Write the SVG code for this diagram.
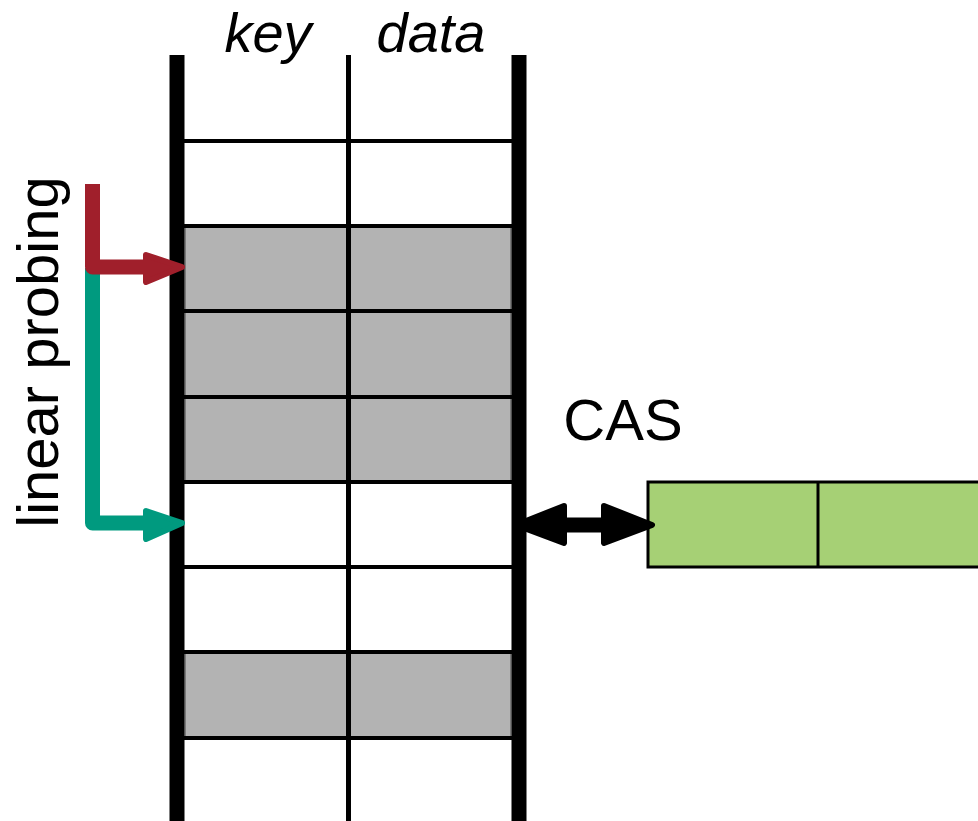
<svg xmlns="http://www.w3.org/2000/svg" width="978" height="821" viewBox="0 0 978 821">
<style>
.t{font-family:"Liberation Sans",Arial,Helvetica,sans-serif;fill:#000}
.it{font-style:italic}
.gray{fill:#b3b3b3;stroke:#444;stroke-width:1}
.hl{stroke:#000;stroke-width:4}
.bar{stroke:#000;stroke-width:15}
.ah{stroke-linejoin:round;stroke-width:6}
</style>
<rect width="978" height="821" fill="#fff"/>
<g id="table">
<rect class="gray" x="185" y="226" width="326" height="256"/>
<rect class="gray" x="185" y="652" width="326" height="86"/>
<line class="hl" x1="177" y1="141" x2="518" y2="141"/>
<line class="hl" x1="177" y1="226" x2="518" y2="226"/>
<line class="hl" x1="177" y1="311" x2="518" y2="311"/>
<line class="hl" x1="177" y1="397" x2="518" y2="397"/>
<line class="hl" x1="177" y1="482" x2="518" y2="482"/>
<line class="hl" x1="177" y1="567" x2="518" y2="567"/>
<line class="hl" x1="177" y1="652" x2="518" y2="652"/>
<line class="hl" x1="177" y1="738" x2="518" y2="738"/>
<line x1="348.5" y1="55" x2="348.5" y2="821" stroke="#000" stroke-width="5"/>
<line class="bar" x1="177" y1="55" x2="177" y2="821"/>
<line class="bar" x1="519" y1="55" x2="519" y2="821"/>
<text class="t it" x="268" y="52" font-size="56" text-anchor="middle">key</text>
<text class="t it" x="431" y="52" font-size="56" text-anchor="middle">data</text>
</g>
<g id="cas-target">
<rect x="648" y="482" width="340" height="85" fill="#a6d075" stroke="#000" stroke-width="3"/>
<line x1="818" y1="482" x2="818" y2="567" stroke="#000" stroke-width="3"/>
</g>
<g id="label-linear-probing">
<text class="t" transform="translate(58,352) rotate(-90)" font-size="58" text-anchor="middle">linear probing</text>
</g>
<g id="label-cas">
<text class="t" x="623" y="440" font-size="58" text-anchor="middle">CAS</text>
</g>
<g id="connectors">
<path d="M92.5,523 L92.5,268" fill="none" stroke="#009a7f" stroke-width="15"/>
<path d="M92.5,268 L92.5,523 L150,523" fill="none" stroke="#009a7f" stroke-width="15" stroke-linejoin="round"/>
<polygon class="ah" points="146,511 182,523 146,539" fill="#009a7f" stroke="#009a7f"/>
<path d="M92.5,184 L92.5,267 L150,267" fill="none" stroke="#a01f2b" stroke-width="15" stroke-linejoin="round"/>
<polygon class="ah" points="146,255 182,267 146,282" fill="#a01f2b" stroke="#a01f2b"/>
<line x1="550" y1="525" x2="615" y2="525" stroke="#000" stroke-width="15"/>
<polygon class="ah" points="564,506 516,525 564,543" fill="#000" stroke="#000"/>
<polygon class="ah" points="604,506 652,525 604,543" fill="#000" stroke="#000"/>
</g>
</svg>
